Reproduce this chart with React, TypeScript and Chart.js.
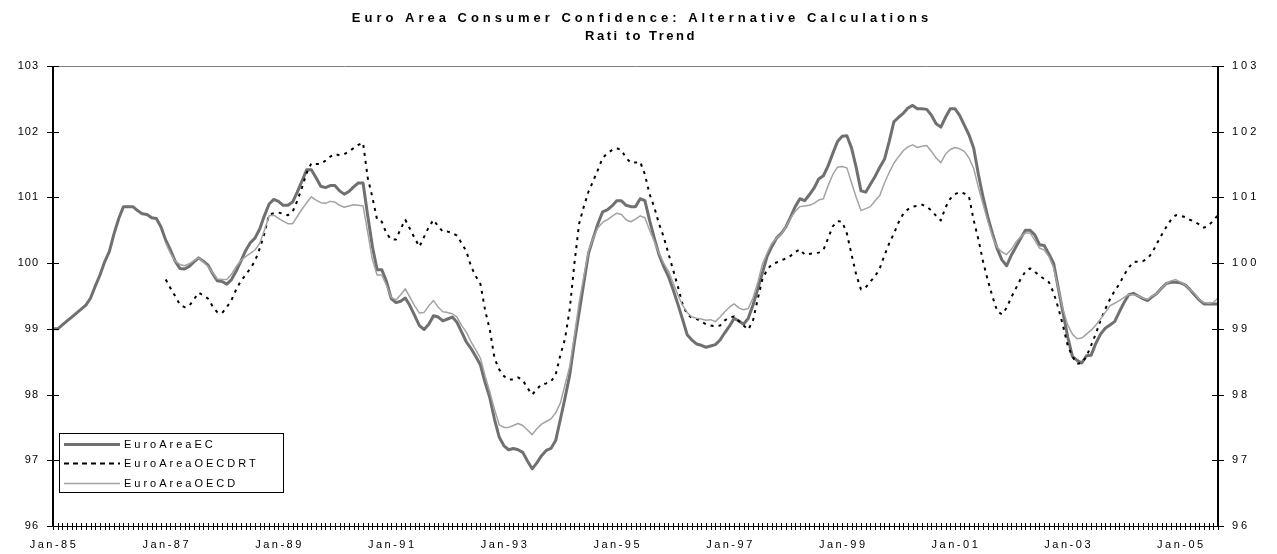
import React, { useEffect, useRef } from 'react';
import { Chart, registerables } from 'chart.js';

Chart.register(...registerables);

const TITLE_LINES = ['Euro Area Consumer Confidence: Alternative Calculations', 'Rati to Trend'];
const MONTH_NAMES = ['Jan', 'Feb', 'Mar', 'Apr', 'May', 'Jun', 'Jul', 'Aug', 'Sep', 'Oct', 'Nov', 'Dec'];
const START_YEAR = 1985;
const MONTH_COUNT = 249; // Jan-85 .. Sep-05
const LABEL_EVERY = 24;
const Y_TICKS = [96, 97, 98, 99, 100, 101, 102, 103];

const MONTHS: string[] = [];
for (let i = 0; i < MONTH_COUNT; i++) {
  const y = (START_YEAR + Math.floor(i / 12)) % 100;
  MONTHS.push(`${MONTH_NAMES[i % 12]}-${String(y).padStart(2, '0')}`);
}

const SERIES_NAMES = ['EuroAreaEC', 'EuroAreaOECDRT', 'EuroAreaOECD'];

const EURO_AREA_EC = [
  99.00, 99.00, 99.06, 99.12, 99.18, 99.24, 99.30, 99.36, 99.47, 99.65,
  99.82, 100.02, 100.18, 100.45, 100.68, 100.86, 100.86, 100.86, 100.80, 100.75,
  100.74, 100.69, 100.68, 100.55, 100.35, 100.20, 100.03, 99.92, 99.91, 99.95,
  100.02, 100.08, 100.03, 99.97, 99.84, 99.73, 99.72, 99.68, 99.75, 99.88,
  100.03, 100.19, 100.31, 100.38, 100.52, 100.72, 100.90, 100.97, 100.94, 100.88,
  100.88, 100.93, 101.08, 101.25, 101.42, 101.42, 101.30, 101.17, 101.15, 101.18,
  101.18, 101.10, 101.05, 101.09, 101.16, 101.22, 101.22, 100.72, 100.25, 99.90,
  99.90, 99.72, 99.46, 99.40, 99.42, 99.47, 99.35, 99.20, 99.05, 98.99,
  99.07, 99.20, 99.18, 99.12, 99.15, 99.18, 99.10, 98.95, 98.80, 98.70,
  98.58, 98.45, 98.18, 97.95, 97.62, 97.35, 97.22, 97.16, 97.18, 97.16,
  97.12, 96.99, 96.87, 96.96, 97.07, 97.15, 97.18, 97.30, 97.62, 97.95,
  98.30, 98.80, 99.25, 99.70, 100.15, 100.38, 100.60, 100.78, 100.81, 100.87,
  100.95, 100.95, 100.88, 100.86, 100.86, 100.98, 100.95, 100.65, 100.38, 100.13,
  99.95, 99.80, 99.60, 99.38, 99.15, 98.91, 98.83, 98.77, 98.75, 98.72,
  98.74, 98.76, 98.83, 98.94, 99.04, 99.16, 99.12, 99.07, 99.16, 99.36,
  99.60, 99.85, 100.10, 100.25, 100.38, 100.45, 100.55, 100.70, 100.86, 100.98,
  100.95, 101.04, 101.14, 101.28, 101.33, 101.48, 101.67, 101.85, 101.93, 101.94,
  101.75, 101.45, 101.10, 101.08, 101.20, 101.32, 101.46, 101.58, 101.85, 102.15,
  102.22, 102.28, 102.36, 102.40, 102.35, 102.35, 102.34, 102.25, 102.12, 102.07,
  102.22, 102.35, 102.35, 102.25, 102.10, 101.95, 101.75, 101.35, 101.00, 100.70,
  100.45, 100.22, 100.05, 99.96, 100.12, 100.25, 100.38, 100.50, 100.50, 100.43,
  100.28, 100.27, 100.14, 100.00, 99.62, 99.25, 98.88, 98.58, 98.52, 98.48,
  98.59, 98.60, 98.78, 98.92, 99.01, 99.06, 99.11, 99.26, 99.40, 99.52,
  99.54, 99.50, 99.46, 99.43, 99.49, 99.54, 99.62, 99.69, 99.71, 99.71,
  99.70, 99.67, 99.60, 99.52, 99.44, 99.38, 99.38, 99.38, 99.38,
];

// Both OECD series start in Jan-87 (month index 24)
const OECD_START = 24;

const EURO_AREA_OECD_RT = [
  99.75, 99.62, 99.50, 99.37, 99.33, 99.35, 99.45, 99.55, 99.51, 99.46,
  99.34, 99.25, 99.24, 99.33, 99.44, 99.60, 99.73, 99.82, 99.92, 100.03,
  100.22, 100.45, 100.74, 100.76, 100.77, 100.75, 100.73, 100.78, 100.95, 101.15,
  101.37, 101.52, 101.51, 101.51, 101.56, 101.62, 101.66, 101.64, 101.66, 101.70,
  101.75, 101.80, 101.83, 101.30, 101.00, 100.66, 100.63, 100.45, 100.36, 100.36,
  100.52, 100.66, 100.52, 100.38, 100.25, 100.40, 100.55, 100.66, 100.56, 100.48,
  100.48, 100.46, 100.42, 100.30, 100.18, 99.95, 99.80, 99.68, 99.28, 98.98,
  98.55, 98.38, 98.28, 98.23, 98.23, 98.26, 98.22, 98.10, 98.00, 98.08,
  98.16, 98.17, 98.20, 98.30, 98.60, 98.85, 99.30, 100.00, 100.60, 100.86,
  101.09, 101.25, 101.42, 101.60, 101.67, 101.72, 101.75, 101.72, 101.60, 101.53,
  101.53, 101.54, 101.35, 101.05, 100.85, 100.60, 100.40, 100.15, 99.90, 99.65,
  99.38, 99.22, 99.17, 99.15, 99.11, 99.07, 99.05, 99.04, 99.05, 99.13,
  99.17, 99.19, 99.12, 99.05, 98.99, 99.12, 99.45, 99.75, 99.90, 99.98,
  100.01, 100.04, 100.07, 100.11, 100.17, 100.21, 100.13, 100.14, 100.15, 100.16,
  100.20, 100.38, 100.56, 100.64, 100.63, 100.45, 100.13, 99.82, 99.60, 99.63,
  99.72, 99.80, 99.92, 100.12, 100.30, 100.45, 100.62, 100.75, 100.82, 100.86,
  100.87, 100.89, 100.86, 100.80, 100.72, 100.65, 100.85, 100.98, 101.05, 101.08,
  101.06, 101.01, 100.65, 100.36, 100.02, 99.74, 99.49, 99.27, 99.22, 99.32,
  99.48, 99.62, 99.76, 99.87, 99.92, 99.87, 99.81, 99.76, 99.71, 99.55,
  99.32, 99.05, 98.75, 98.58, 98.47, 98.48, 98.58, 98.75, 98.93, 99.13,
  99.30, 99.45, 99.58, 99.68, 99.82, 99.93, 100.02, 100.02, 100.03, 100.07,
  100.16, 100.30, 100.43, 100.55, 100.66, 100.73, 100.72, 100.70, 100.66, 100.63,
  100.59, 100.54, 100.57, 100.65, 100.73,
];

const EURO_AREA_OECD = [
  100.30, 100.15, 100.03, 99.98, 99.96, 99.99, 100.04, 100.08, 100.02, 99.95,
  99.85, 99.76, 99.75, 99.75, 99.83, 99.95, 100.04, 100.10, 100.15, 100.20,
  100.30, 100.50, 100.72, 100.73, 100.68, 100.64, 100.60, 100.60, 100.71, 100.82,
  100.92, 101.01, 100.96, 100.92, 100.91, 100.94, 100.93, 100.88, 100.85, 100.87,
  100.89, 100.88, 100.87, 100.47, 100.05, 99.82, 99.82, 99.66, 99.48, 99.44,
  99.52, 99.61, 99.48, 99.35, 99.24, 99.25, 99.35, 99.43, 99.33, 99.26,
  99.25, 99.23, 99.18, 99.05, 98.95, 98.80, 98.68, 98.55, 98.28, 98.04,
  97.77, 97.54, 97.50, 97.50, 97.53, 97.56, 97.53, 97.46, 97.39, 97.48,
  97.55, 97.59, 97.63, 97.72, 97.87, 98.15, 98.43, 98.90, 99.40, 99.80,
  100.18, 100.38, 100.54, 100.62, 100.66, 100.71, 100.76, 100.74, 100.66, 100.63,
  100.67, 100.72, 100.69, 100.50, 100.33, 100.15, 100.00, 99.88, 99.70, 99.52,
  99.36, 99.25, 99.18, 99.16, 99.15, 99.13, 99.14, 99.11, 99.18, 99.26,
  99.33, 99.38, 99.32, 99.29, 99.31, 99.47, 99.70, 99.98, 100.15, 100.30,
  100.38, 100.44, 100.55, 100.68, 100.79, 100.86, 100.87, 100.88, 100.91, 100.96,
  100.98, 101.18, 101.35, 101.46, 101.47, 101.45, 101.22, 101.00, 100.80, 100.83,
  100.86, 100.95, 101.03, 101.22, 101.38, 101.52, 101.62, 101.71, 101.77, 101.80,
  101.76, 101.78, 101.79, 101.70, 101.60, 101.53, 101.66, 101.73, 101.76, 101.74,
  101.70, 101.60, 101.44, 101.15, 100.89, 100.64, 100.40, 100.24, 100.17, 100.13,
  100.21, 100.32, 100.40, 100.46, 100.46, 100.35, 100.23, 100.20, 100.10, 99.93,
  99.62, 99.30, 99.06, 98.92, 98.85, 98.86, 98.92, 98.98, 99.06, 99.15,
  99.25, 99.35, 99.39, 99.43, 99.48, 99.52, 99.52, 99.50, 99.47, 99.45,
  99.50, 99.54, 99.62, 99.69, 99.73, 99.75, 99.71, 99.67, 99.60, 99.54,
  99.45, 99.40, 99.39, 99.40, 99.47,
];

const FONT = '"Liberation Sans", Arial, sans-serif';

function padStart(values: number[], start: number): (number | null)[] {
  const out: (number | null)[] = [];
  for (let i = 0; i < start; i++) out.push(null);
  return out.concat(values);
}

const decorPlugin = {
  id: 'decor',
  afterDraw(chart: any) {
    const ctx: CanvasRenderingContext2D = chart.ctx;
    const { left, right, top, bottom } = chart.chartArea;
    const xs = chart.scales.x;
    const ys = chart.scales.y;
    const c: any = ctx;
    ctx.save();

    const seg = (x1: number, y1: number, x2: number, y2: number) => {
      ctx.beginPath();
      ctx.moveTo(x1, y1);
      ctx.lineTo(x2, y2);
      ctx.stroke();
    };

    // top border
    ctx.strokeStyle = '#7f7f7f';
    ctx.lineWidth = 1;
    seg(left, Math.round(top) + 0.5, right, Math.round(top) + 0.5);

    // bottom axis + monthly ticks
    ctx.strokeStyle = '#000';
    const by = Math.round(bottom) + 0.5;
    seg(left, by, right, by);
    for (let i = 0; i < MONTHS.length; i++) {
      const x = Math.round(xs.getPixelForValue(i)) + 0.5;
      seg(x, by - 3.5, x, by + 3.5);
    }

    // vertical axes
    ctx.lineWidth = 2;
    seg(left, top, left, bottom + 1);
    seg(right, top, right, bottom + 1);

    // y ticks
    ctx.lineWidth = 1;
    for (const v of Y_TICKS) {
      const y = Math.round(ys.getPixelForValue(v)) + 0.5;
      seg(left - 6, y, left + 6, y);
      seg(right - 6, y, right + 6, y);
    }

    // labels
    ctx.fillStyle = '#000';
    ctx.font = `11px ${FONT}`;
    ctx.textBaseline = 'middle';
    ctx.textAlign = 'right';
    c.letterSpacing = '1px';
    for (const v of Y_TICKS) {
      const y = ys.getPixelForValue(v);
      ctx.fillText(String(v), left - 14, y);
    }
    ctx.textAlign = 'left';
    c.letterSpacing = '3px';
    for (const v of Y_TICKS) {
      const y = ys.getPixelForValue(v);
      ctx.fillText(String(v), right + 14, y);
    }
    ctx.textAlign = 'center';
    c.letterSpacing = '2.5px';
    for (let i = 0; i < MONTHS.length; i += LABEL_EVERY) {
      const x = xs.getPixelForValue(i);
      ctx.fillText(MONTHS[i], x + 1, bottom + 19);
    }

    // title
    ctx.font = `bold 13px ${FONT}`;
    c.letterSpacing = '4px';
    ctx.fillText(TITLE_LINES[0], 642, 18);
    c.letterSpacing = '2.5px';
    ctx.fillText(TITLE_LINES[1], 641, 36);

    // legend
    const lx = 59, ly = 433, lw = 224, lh = 59;
    ctx.fillStyle = '#fff';
    ctx.fillRect(lx, ly, lw, lh);
    ctx.strokeStyle = '#000';
    ctx.lineWidth = 1;
    ctx.strokeRect(lx + 0.5, ly + 0.5, lw, lh);
    const rows = [444, 463, 483];
    chart.data.datasets.forEach((ds: any, k: number) => {
      const ry = rows[k] + 0.5;
      ctx.save();
      ctx.strokeStyle = ds.borderColor;
      ctx.lineWidth = ds.borderWidth;
      ctx.setLineDash(ds.legendDash || []);
      seg(64, ry, 120, ry);
      ctx.restore();
      ctx.fillStyle = '#000';
      ctx.font = `11px ${FONT}`;
      ctx.textAlign = 'left';
      ctx.textBaseline = 'middle';
      c.letterSpacing = '3px';
      ctx.fillText(ds.label, 124, rows[k] + 1);
    });

    c.letterSpacing = '0px';
    ctx.restore();
  },
};

export default function App() {
  const canvasRef = useRef<HTMLCanvasElement | null>(null);

  useEffect(() => {
    const canvas = canvasRef.current;
    if (!canvas) return;
    const chart = new Chart(canvas, {
      type: 'line',
      data: {
        labels: MONTHS,
        datasets: [
          {
            label: SERIES_NAMES[0],
            data: EURO_AREA_EC,
            borderColor: '#707070',
            borderWidth: 3,
            order: 3,
            legendDash: [],
          } as any,
          {
            label: SERIES_NAMES[1],
            data: padStart(EURO_AREA_OECD_RT, OECD_START),
            borderColor: '#000000',
            borderWidth: 2,
            borderDash: [3, 5],
            order: 2,
            legendDash: [5, 4],
          } as any,
          {
            label: SERIES_NAMES[2],
            data: padStart(EURO_AREA_OECD, OECD_START),
            borderColor: '#a3a3a3',
            borderWidth: 1.5,
            order: 1,
            legendDash: [],
          } as any,
        ],
      },
      options: {
        responsive: false,
        animation: false,
        devicePixelRatio: 1,
        layout: { padding: { top: 66, left: 0, right: 0, bottom: 0 } },
        elements: {
          point: { radius: 0, hoverRadius: 0 },
          line: { tension: 0, fill: false, borderJoinStyle: 'round', borderCapStyle: 'butt' },
        },
        plugins: {
          legend: { display: false },
          title: { display: false },
          tooltip: { enabled: false },
        },
        scales: {
          x: {
            type: 'category',
            offset: false,
            grid: { display: false, drawTicks: false },
            border: { display: false },
            ticks: { display: false, autoSkip: false },
            afterFit: (s: any) => { s.height = 28; },
          },
          y: {
            position: 'left',
            min: 96,
            max: 103,
            grid: { display: false, drawTicks: false },
            border: { display: false },
            ticks: { display: false, stepSize: 1 },
            afterFit: (s: any) => { s.width = 53; },
          },
          y2: {
            position: 'right',
            min: 96,
            max: 103,
            grid: { display: false, drawTicks: false },
            border: { display: false },
            ticks: { display: false, stepSize: 1 },
            afterFit: (s: any) => { s.width = 59; },
          },
        },
      } as any,
      plugins: [decorPlugin],
    });
    return () => chart.destroy();
  }, []);

  return (
    <div style={{ position: 'absolute', left: 0, top: 0, width: 1277, height: 554, background: '#fff' }}>
      <canvas ref={canvasRef} width={1277} height={554} style={{ display: 'block', width: 1277, height: 554 }} />
    </div>
  );
}
